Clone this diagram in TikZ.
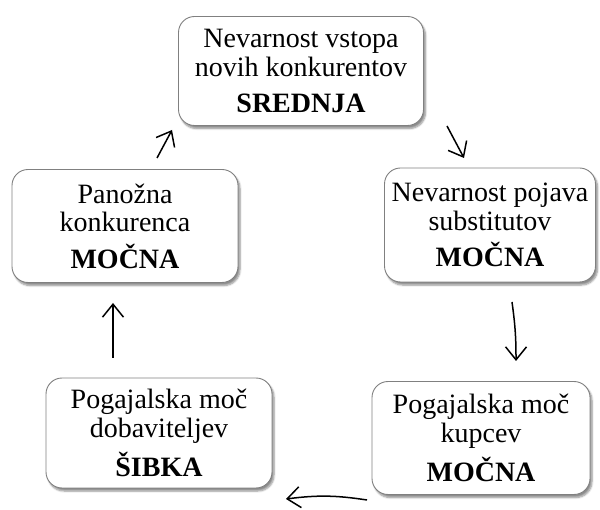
\documentclass[tikz,border=0pt]{standalone}
\usepackage{fontspec}
\setmainfont{Liberation Serif}
\usetikzlibrary{arrows.meta,shadows.blur}

\begin{document}
\begin{tikzpicture}[x=1pt, y=-1pt,
    force/.style={draw=black!50, line width=0.9pt, fill=white, rounded corners=16pt,
        blur shadow={shadow xshift=2pt, shadow yshift=-3pt, shadow opacity=45, shadow blur steps=6},
        align=center, font=\fontsize{28}{28.5}\selectfont, inner sep=0pt},
    flow/.style={-{Straight Barb[length=13pt, width=21pt]}, line width=1.5pt}]
    \useasboundingbox (0,0) rectangle (600,510);

    % Draw the five forces
    \node[force, minimum width=245pt, minimum height=109pt] (entry) at (301,71)
        {Nevarnost vstopa\\novih konkurentov\\[8pt]\textbf{SREDNJA}};
    \node[force, minimum width=211pt, minimum height=114pt] (subst) at (490,225)
        {Nevarnost pojava\\substitutov\\[8pt]\textbf{MOČNA}};
    \node[force, minimum width=218pt, minimum height=113pt] (buyers) at (481,438)
        {Pogajalska moč\\kupcev\\[8pt]\textbf{MOČNA}};
    \node[force, minimum width=226pt, minimum height=110pt] (suppl) at (159,433)
        {Pogajalska moč\\dobaviteljev\\[8pt]\textbf{ŠIBKA}};
    \node[force, minimum width=226pt, minimum height=113pt] (rivalry) at (125,226)
        {Panožna\\konkurenca\\[8pt]\textbf{MOČNA}};

    % Arrow ends between the boxes
    \coordinate (a1) at (157,158);  \coordinate (b1) at (172,130);
    \coordinate (a2) at (447,126);  \coordinate (b2) at (464,158);
    \coordinate (a3) at (512,302);  \coordinate (b3) at (516,361);
    \coordinate (a4) at (367,500);  \coordinate (b4) at (286,499);
    \coordinate (a5) at (113,358);  \coordinate (b5) at (113,303);

    % Draw the arrows clockwise
    \draw[flow] (a1) -- (b1);
    \draw[flow] (a2) -- (b2);
    \draw[flow] (a3) to[bend left=4] (b3);
    \draw[flow] (a4) to[bend right=8] (b4);
    \draw[flow] (a5) -- (b5);
\end{tikzpicture}
\end{document}
